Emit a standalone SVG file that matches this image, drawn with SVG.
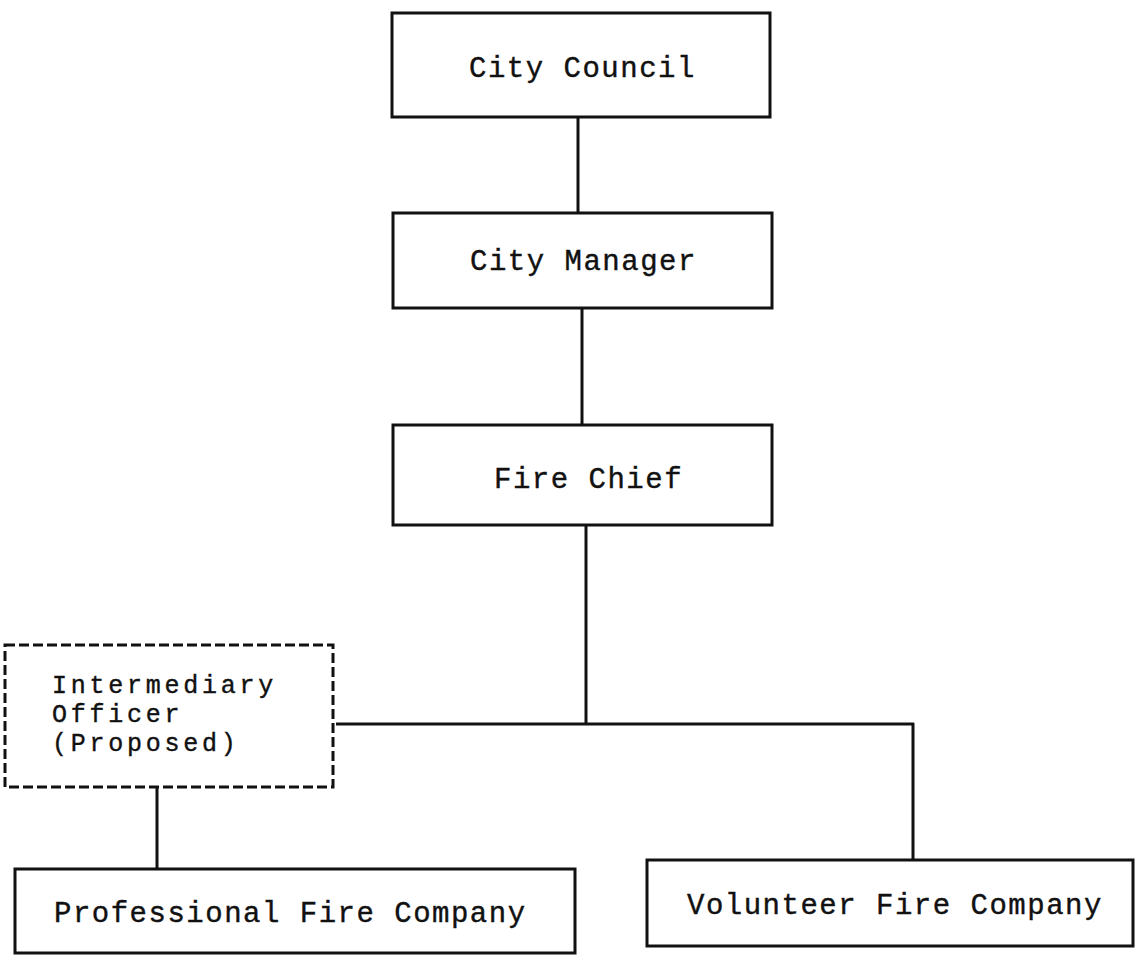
<svg xmlns="http://www.w3.org/2000/svg" width="1138" height="956" viewBox="0 0 1138 956">
<style>
.box{fill:none;stroke:#111;stroke-width:3}
.dash{fill:none;stroke:#111;stroke-width:3;stroke-dasharray:10 4}
.ln{fill:none;stroke:#111;stroke-width:3}
.t{font-family:"Liberation Mono","DejaVu Sans Mono",monospace;font-size:29px;letter-spacing:1.5px;fill:#111;stroke:#111;stroke-width:0.4}
.s{font-size:25px;letter-spacing:3.75px}
</style>
<rect width="1138" height="956" fill="#fff"/>
<g id="connectors">
<line class="ln" x1="578" y1="117" x2="578" y2="213"/>
<line class="ln" x1="582" y1="308" x2="582" y2="425"/>
<line class="ln" x1="586" y1="525" x2="586" y2="724"/>
<line class="ln" x1="336" y1="724" x2="914" y2="724"/>
<line class="ln" x1="913" y1="723" x2="913" y2="860"/>
<line class="ln" x1="157" y1="787" x2="157" y2="869"/>
</g>
<g id="city-council">
<rect class="box" x="392" y="13" width="378" height="104"/>
<text class="t" x="469" y="77">City Council</text>
</g>
<g id="city-manager">
<rect class="box" x="393" y="213" width="379" height="95"/>
<text class="t" x="470" y="270">City Manager</text>
</g>
<g id="fire-chief">
<rect class="box" x="393" y="425" width="379" height="100"/>
<text class="t" x="494" y="488">Fire Chief</text>
</g>
<g id="intermediary-officer">
<rect class="dash" x="5" y="645" width="328" height="142"/>
<text class="t s" x="52" y="693">Intermediary</text>
<text class="t s" x="52" y="722">Officer</text>
<text class="t s" x="52" y="751">(Proposed)</text>
</g>
<g id="professional-fire-company">
<rect class="box" x="15" y="869" width="560" height="84"/>
<text class="t" x="54" y="922">Professional Fire Company</text>
</g>
<g id="volunteer-fire-company">
<rect class="box" x="647" y="860" width="486" height="86"/>
<text class="t" x="687" y="914">Volunteer Fire Company</text>
</g>
</svg>
